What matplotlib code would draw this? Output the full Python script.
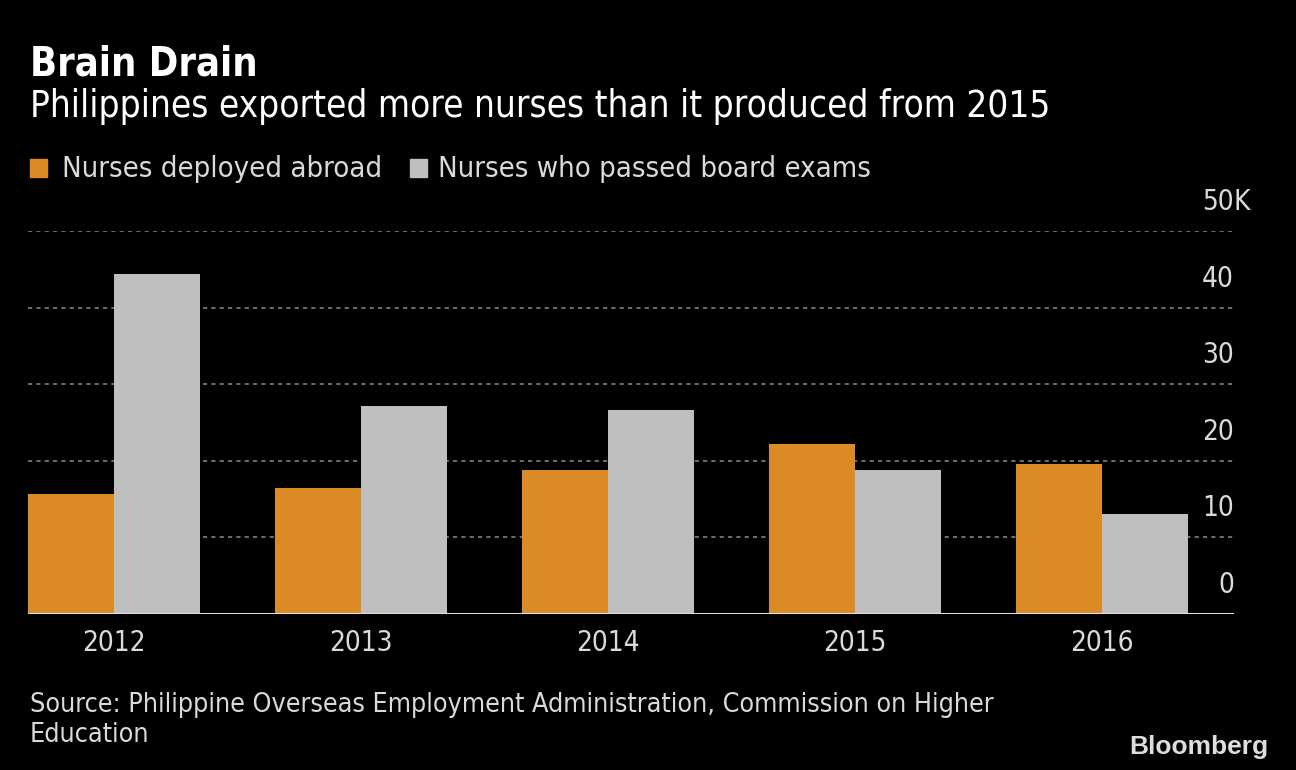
import matplotlib
matplotlib.use("Agg")
import matplotlib.pyplot as plt
import numpy as np

years = ["2012", "2013", "2014", "2015", "2016"]
deployed = [15.6, 16.4, 18.8, 22.2, 19.5]
passed = [44.4, 27.1, 26.6, 18.8, 13.0]
yticks = [0, 10, 20, 30, 40, 50]

orange = "#DC8A26"
grey = "#BFBFBF"
txt = "#DADADA"

plt.rcParams['font.family'] = ['DejaVu Sans']
plt.rcParams['font.stretch'] = 'condensed'

fig = plt.figure(figsize=(12.96, 7.70), dpi=100, facecolor="black")
ax = fig.add_axes([28/1296, 1 - 613.5/770, 1206/1296, (613.5 - 231)/770])
ax.set_facecolor("black")

w = 86/247
x = np.arange(len(years))
ax.bar(x - w, deployed, width=w, align="edge", color=orange, zorder=3)
ax.bar(x, passed, width=w, align="edge", color=grey, zorder=3)

ax.set_xlim(-w, -w + 1206/247)
ax.set_ylim(0, 50)

for v in yticks[1:]:
	ax.axhline(v, color="#808080", lw=1.2, ls=(0, (2.5, 2.5)), zorder=1)
ax.axhline(0, color="#E0E0E0", lw=1.5, zorder=4)

for v in yticks:
	ax.annotate(str(v), xy=(1, v), xycoords=("axes fraction", "data"), xytext=(0, 10.5),
		textcoords="offset points", ha="right", va="bottom", color=txt, fontsize=20)
	if v == 50:
		ax.annotate("K", xy=(1, v), xycoords=("axes fraction", "data"), xytext=(0, 10.5),
			textcoords="offset points", ha="left", va="bottom", color=txt, fontsize=20)

ax.set_xticks(x)
ax.set_xticklabels(years, color=txt, fontsize=20)
ax.set_yticks([])
ax.tick_params(axis="x", length=0, pad=11)
for s in ax.spines.values():
	s.set_visible(False)

fig.text(30/1296, 1 - 76/770, "Brain Drain", color="white", fontsize=28.5, fontweight="bold", va="baseline")
fig.text(30/1296, 1 - 117/770, "Philippines exported more nurses than it produced from 2015",
	color="white", fontsize=26.5, va="baseline")

# legend
fig.patches.append(plt.Rectangle((30/1296, 1 - 177/770), 17/1296, 18/770, transform=fig.transFigure,
	color=orange))
fig.text(62/1296, 1 - 177/770, "Nurses deployed abroad", color=txt, fontsize=21, va="baseline")
fig.patches.append(plt.Rectangle((410/1296, 1 - 177/770), 17/1296, 18/770, transform=fig.transFigure,
	color=grey))
fig.text(438/1296, 1 - 177/770, "Nurses who passed board exams", color=txt, fontsize=21, va="baseline")

fig.text(30/1296, 1 - 712/770, "Source: Philippine Overseas Employment Administration, Commission on Higher",
	color=txt, fontsize=19.3, va="baseline")
fig.text(30/1296, 1 - 742/770, "Education", color=txt, fontsize=19.3, va="baseline")
fig.text(1268/1296, 1 - 754/770, "Bloomberg", color="#DDDDDD", fontsize=19, fontweight="bold",
	ha="right", va="baseline", family=["Liberation Sans", "DejaVu Sans"], stretch="normal")

fig.savefig("out.png", dpi=100, facecolor="black")
